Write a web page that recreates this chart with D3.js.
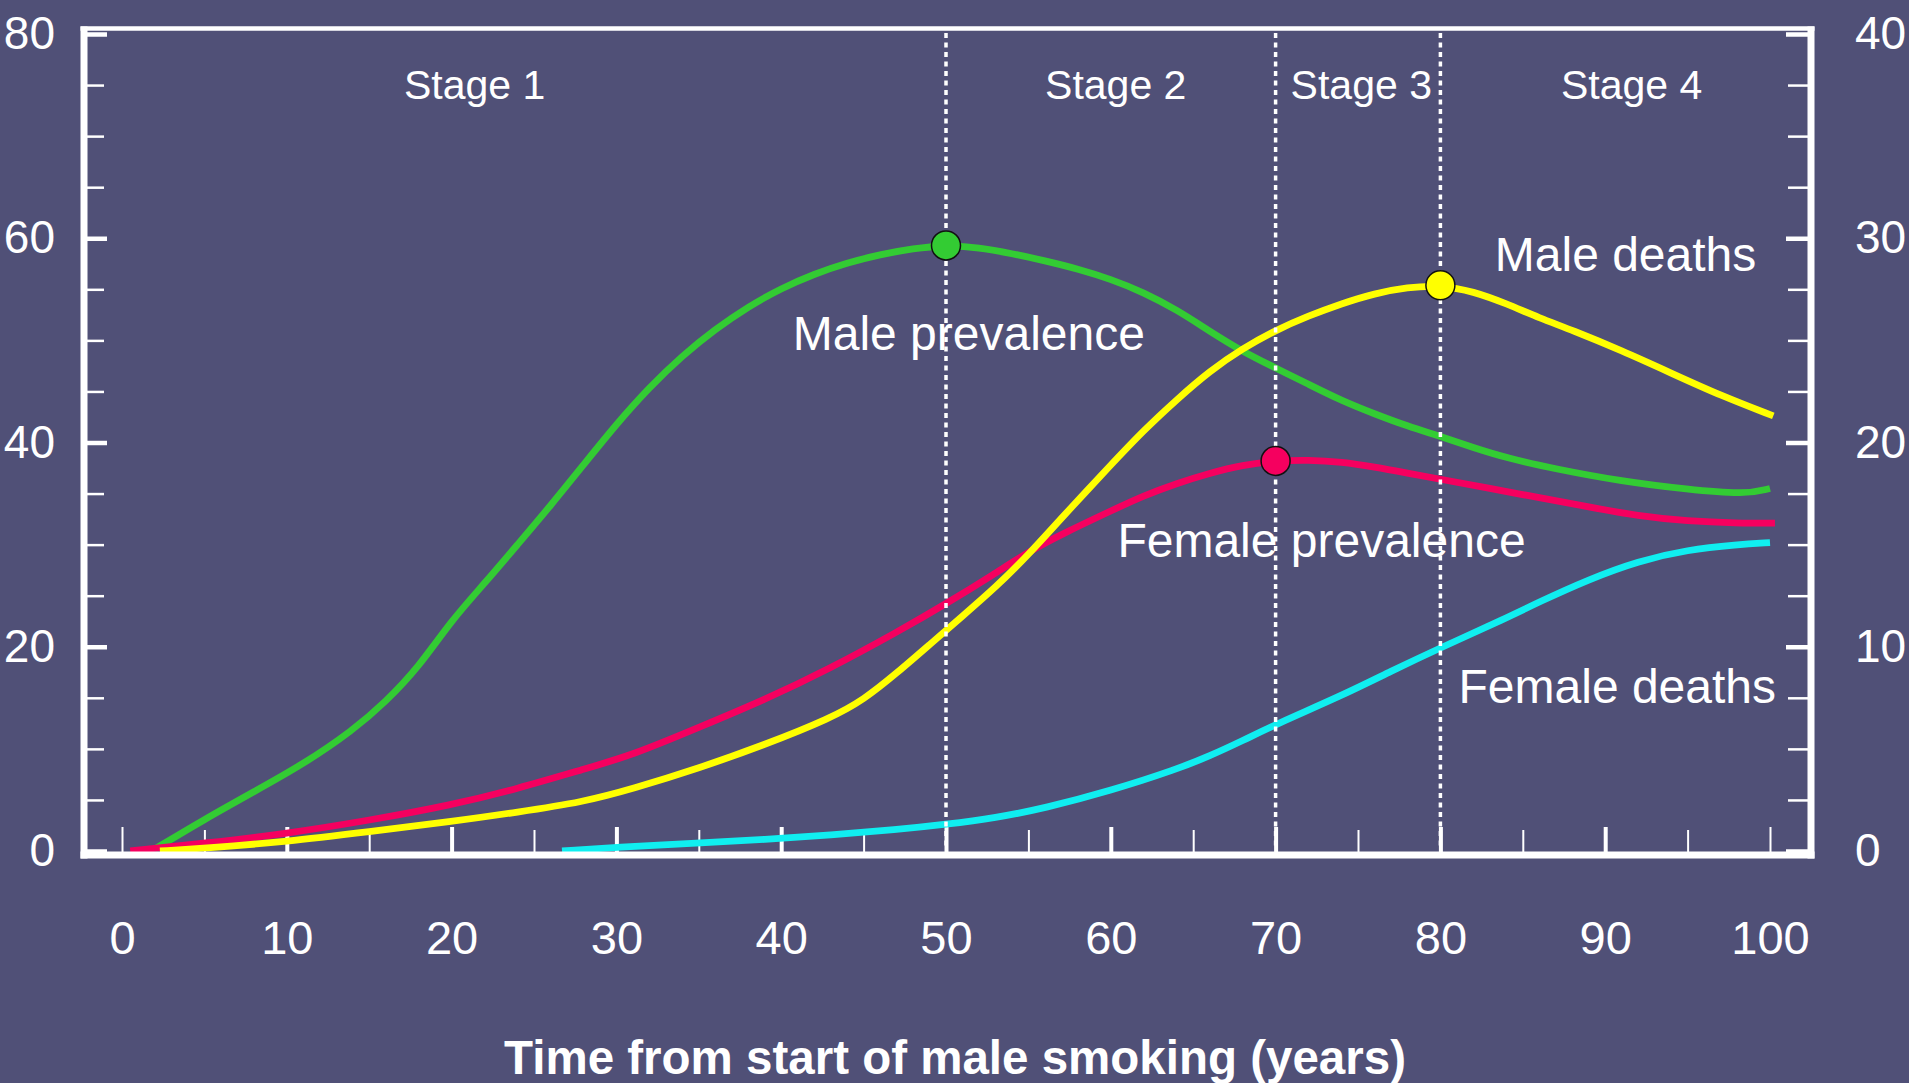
<!DOCTYPE html>
<html>
<head>
<meta charset="utf-8">
<script src="https://d3js.org/d3.v7.min.js"></script>
<style>
  body { margin: 0; background: #505077; }
  text { font-family: "Liberation Sans", Arial, sans-serif; fill: #fff; }
</style>
</head>
<body>
<div id="chart"></div>
<script>
// values (years since start of male smoking)
// prevalence is on the left axis (0-80), deaths on the right axis (0-40)
const malePrevYears = [2, 5, 8, 11, 14, 16, 18, 20, 22, 24, 26, 28, 30, 32, 34, 36, 38, 40, 42, 44, 46, 48, 50, 52, 54, 56, 58, 60, 62, 64, 66, 68, 70, 72, 74, 76, 78, 80, 82, 84, 87, 91, 95, 98.5, 100];
const malePrev = [0.2, 3.1, 5.8, 8.5, 11.8, 14.6, 18.0, 22.6, 26.2, 30.0, 33.8, 37.8, 41.8, 45.4, 48.5, 51.1, 53.3, 55.1, 56.5, 57.6, 58.4, 59.0, 59.3, 59.1, 58.5, 57.8, 57.0, 56.0, 54.7, 53.0, 50.9, 48.9, 47.3, 45.7, 44.1, 42.8, 41.6, 40.6, 39.5, 38.5, 37.4, 36.2, 35.4, 34.9, 35.5];

const femalePrevYears = [0.5, 5, 10, 15, 20, 24, 28, 31, 35, 39, 43, 47, 50, 53, 55, 57, 60, 62, 64, 66, 68, 70, 72, 74, 76, 78, 80, 83, 86, 89, 92, 95, 98, 100.3];
const femalePrev = [0, 0.75, 1.7, 3.0, 4.5, 6.1, 8.0, 9.4, 12.1, 14.8, 17.9, 21.4, 24.2, 27.2, 29.3, 31.0, 33.3, 34.8, 36.0, 37.0, 37.8, 38.2, 38.3, 38.1, 37.6, 37.0, 36.4, 35.5, 34.6, 33.7, 32.8, 32.3, 32.1, 32.1];

const maleDeathYears = [2.3, 5, 10, 15, 20, 24, 28, 31, 35, 39, 43, 45, 47, 49, 51, 53, 55, 57, 60, 62, 64, 66, 68, 70, 72, 74, 76, 78, 80, 82, 84, 86, 88, 91, 94, 97, 100.2];
const maleDeaths = [0, 0.13, 0.46, 0.95, 1.44, 1.9, 2.4, 3.05, 4.05, 5.2, 6.5, 7.4, 8.7, 10.1, 11.5, 12.9, 14.5, 16.3, 18.9, 20.6, 22.1, 23.5, 24.6, 25.5, 26.2, 26.8, 27.3, 27.6, 27.7, 27.4, 26.8, 26.1, 25.5, 24.5, 23.4, 22.3, 21.3];

const femaleDeathYears = [26.7, 30, 35, 39, 43, 47, 50, 53, 56, 60, 64, 66, 68, 70, 74, 77, 80, 84, 86, 89, 92, 95, 98, 100];
const femaleDeaths = [0, 0.18, 0.39, 0.56, 0.79, 1.04, 1.3, 1.62, 2.1, 2.95, 4.0, 4.65, 5.4, 6.2, 7.6, 8.8, 9.95, 11.4, 12.2, 13.3, 14.2, 14.75, 15.0, 15.1];

// peaks marked with dots: [year, value]
const malePrevPeak = [50, 59.3];
const femalePrevPeak = [70, 38.2];
const maleDeathPeak = [80, 27.7];

const stageBreaks = [50, 70, 80];
const stageNames = ["Stage 1", "Stage 2", "Stage 3", "Stage 4"];

const xTicks = [0, 10, 20, 30, 40, 50, 60, 70, 80, 90, 100];
const yLeftTicks = [0, 20, 40, 60, 80];
const yRightTicks = [0, 10, 20, 30, 40];

// layout
const W = 1909, H = 1083;
const bg = "#505077";
const frame = { left: 84, right: 1811, top: 28.5, bottom: 855 };

const svg = d3.select("#chart")
  .append("svg")
  .attr("width", W)
  .attr("height", H);

svg.append("rect").attr("width", W).attr("height", H).attr("fill", bg);

const x = d3.scaleLinear().domain([0, 100]).range([122, 1770]);
const yLeft = d3.scaleLinear().domain([0, 80]).range([851, 34]);
const yRight = d3.scaleLinear().domain([0, 40]).range([851, 34]);

function styleAxis(g, size) {
  g.select(".domain").remove();
  g.selectAll(".tick line").attr("stroke", "#fff");
  g.selectAll(".tick text").attr("font-size", size).attr("fill", "#fff")
    .attr("font-family", '"Liberation Sans", Arial, sans-serif');
}

// minor ticks first
svg.append("g")
  .attr("transform", `translate(0,${frame.bottom})`)
  .call(d3.axisBottom(x).tickValues(d3.range(5, 100, 10)).tickSizeInner(-25).tickSizeOuter(0).tickFormat(""))
  .call(g => styleAxis(g, 0))
  .selectAll(".tick line").attr("stroke-width", 2);

svg.append("g")
  .attr("transform", `translate(0,${frame.bottom})`)
  .call(d3.axisBottom(x).tickValues(xTicks).tickSizeInner(-28).tickSizeOuter(0).tickPadding(66))
  .call(g => styleAxis(g, 47))
  .selectAll(".tick line").attr("stroke-width", d => (d === 0 || d === 100) ? 2 : 4);

svg.append("g")
  .attr("transform", `translate(${frame.left},0)`)
  .call(d3.axisLeft(yLeft).tickValues(d3.range(5, 80, 5).filter(d => d % 20)).tickSizeInner(-20).tickSizeOuter(0).tickFormat(""))
  .call(g => styleAxis(g, 0))
  .selectAll(".tick line").attr("stroke-width", 2.5);

svg.append("g")
  .attr("transform", `translate(${frame.left},0)`)
  .call(d3.axisLeft(yLeft).tickValues(yLeftTicks).tickSizeInner(-23).tickSizeOuter(0).tickPadding(29))
  .call(g => styleAxis(g, 46))
  .selectAll(".tick line").attr("stroke-width", 4.5);

svg.append("g")
  .attr("transform", `translate(${frame.right},0)`)
  .call(d3.axisRight(yRight).tickValues(d3.range(2.5, 40, 2.5).filter(d => d % 10)).tickSizeInner(-23).tickSizeOuter(0).tickFormat(""))
  .call(g => styleAxis(g, 0))
  .selectAll(".tick line").attr("stroke-width", 2.5);

svg.append("g")
  .attr("transform", `translate(${frame.right},0)`)
  .call(d3.axisRight(yRight).tickValues(yRightTicks).tickSizeInner(-25).tickSizeOuter(0).tickPadding(44))
  .call(g => styleAxis(g, 46))
  .selectAll(".tick line").attr("stroke-width", 4.5);

// curves
const series = [
  { years: malePrevYears, vals: malePrev, y: yLeft, color: "#33cc33" },
  { years: femalePrevYears, vals: femalePrev, y: yLeft, color: "#f5005f" },
  { years: femaleDeathYears, vals: femaleDeaths, y: yRight, color: "#10eef0" },
  { years: maleDeathYears, vals: maleDeaths, y: yRight, color: "#ffff00" }
];

series.forEach(s => {
  const line = d3.line()
    .x(d => x(d[0]))
    .y(d => s.y(d[1]))
    .curve(d3.curveBasis);
  svg.append("path")
    .datum(d3.zip(s.years, s.vals))
    .attr("d", line)
    .attr("fill", "none")
    .attr("stroke", s.color)
    .attr("stroke-width", 6.8)
    .attr("stroke-linejoin", "round");
});

// stage dividers
svg.selectAll(".stage-line")
  .data(stageBreaks)
  .join("line")
  .attr("x1", d => x(d)).attr("x2", d => x(d))
  .attr("y1", 33).attr("y2", 850)
  .attr("stroke", "#fff")
  .attr("stroke-width", 3.5)
  .attr("stroke-dasharray", "5,4.5");

// frame (thick white box)
svg.append("line").attr("x1", frame.left - 3.5).attr("x2", frame.right + 3.5)
  .attr("y1", frame.top).attr("y2", frame.top).attr("stroke", "#fff").attr("stroke-width", 4.5);
svg.append("line").attr("x1", frame.left - 3.5).attr("x2", frame.right + 3.5)
  .attr("y1", frame.bottom).attr("y2", frame.bottom).attr("stroke", "#fff").attr("stroke-width", 7);
svg.append("line").attr("x1", frame.left).attr("x2", frame.left)
  .attr("y1", frame.top - 2).attr("y2", frame.bottom + 3.5).attr("stroke", "#fff").attr("stroke-width", 7);
svg.append("line").attr("x1", frame.right).attr("x2", frame.right)
  .attr("y1", frame.top - 2).attr("y2", frame.bottom + 3.5).attr("stroke", "#fff").attr("stroke-width", 7);

// peak dots
const peaks = [
  { p: malePrevPeak, y: yLeft, color: "#33cc33" },
  { p: femalePrevPeak, y: yLeft, color: "#f5005f" },
  { p: maleDeathPeak, y: yRight, color: "#ffff00" }
];
svg.selectAll(".peak")
  .data(peaks)
  .join("circle")
  .attr("cx", d => x(d.p[0]))
  .attr("cy", d => d.y(d.p[1]))
  .attr("r", 14.5)
  .attr("fill", d => d.color)
  .attr("stroke", "#111")
  .attr("stroke-width", 1.5);

// stage labels (centre year of each label)
const stageLabelX = [21.4, 60.3, 75.2, 91.6];
svg.selectAll(".stage-label")
  .data(stageNames)
  .join("text")
  .attr("x", (d, i) => x(stageLabelX[i]))
  .attr("y", 99)
  .attr("text-anchor", "middle")
  .attr("font-size", 41)
  .text(d => d);

// curve labels, positioned in data units (left axis)
const curveLabels = [
  { text: "Male prevalence", yr: 40.7, v: 49.06 },
  { text: "Male deaths", yr: 83.3, v: 56.8 },
  { text: "Female prevalence", yr: 60.4, v: 28.8 },
  { text: "Female deaths", yr: 81.1, v: 14.5 }
];
svg.selectAll(".curve-label")
  .data(curveLabels)
  .join("text")
  .attr("x", d => x(d.yr))
  .attr("y", d => yLeft(d.v))
  .attr("font-size", 48)
  .text(d => d.text);

// axis title
svg.append("text")
  .attr("x", 955)
  .attr("y", 1074)
  .attr("text-anchor", "middle")
  .attr("font-size", 47.5)
  .attr("font-weight", "bold")
  .text("Time from start of male smoking (years)");
</script>
</body>
</html>
